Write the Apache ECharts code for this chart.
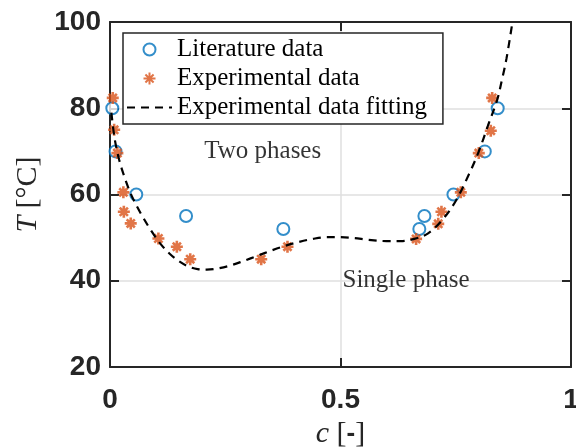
<!DOCTYPE html>
<html>
<head>
<meta charset="utf-8">
<title>Phase diagram</title>
<script src="https://cdn.jsdelivr.net/npm/echarts@6/dist/echarts.min.js"></script>
<style>
  html, body { margin: 0; padding: 0; background: #ffffff; }
  #chart { width: 576px; height: 447px; }
</style>
</head>
<body>
<div id="chart"></div>
<script>
// Literature cloud points (concentration c, temperature T in °C)
const litC = [0.005, 0.012, 0.057, 0.165, 0.376, 0.671, 0.682, 0.745, 0.813, 0.841];
const litT = [80, 70, 60, 55, 52, 52, 55, 60, 70, 80];

// Measured cloud points
const expC = [0.006, 0.009, 0.016, 0.029, 0.030, 0.045, 0.105, 0.145, 0.174,
              0.328, 0.385, 0.664, 0.712, 0.719, 0.761, 0.800, 0.826, 0.829];
const expT = [82.4, 75, 69.6, 60.5, 56, 53.3, 49.8, 47.9, 45,
              45, 47.9, 49.7, 53.2, 56, 60.5, 69.6, 74.8, 82.4];

// Fitted binodal curve
const fitC = [0.003, 0.01, 0.02, 0.03, 0.04, 0.05, 0.07, 0.09, 0.11, 0.13, 0.15,
              0.17, 0.19, 0.21, 0.23, 0.26, 0.29, 0.32, 0.35, 0.38, 0.41, 0.44,
              0.47, 0.50, 0.53, 0.56, 0.60, 0.63, 0.66, 0.69, 0.72, 0.75, 0.78,
              0.80, 0.82, 0.84, 0.85, 0.86, 0.873];
const fitT = [79, 73, 68, 64.5, 61.5, 59, 55, 51.5, 48.5, 46.2, 44.5,
              43.3, 42.7, 42.6, 42.8, 43.5, 44.6, 45.8, 47, 48.1, 49, 49.7,
              50.1, 50.1, 49.9, 49.5, 49.2, 49.2, 49.7, 51, 54, 58.5, 65,
              70, 76, 82, 86.5, 91.5, 100];

// Region labels
const regionText = ['Two phases', 'Single phase'];
const regionC = [0.2, 0.5];
const regionT = [70, 40];

// Axis ticks
const xTicks = [0, 0.5, 1];
const yTicks = [20, 40, 60, 80, 100];

const seriesNames = ['Literature data', 'Experimental data', 'Experimental data fitting'];

const axisColor = '#262626';
const serif = '"Liberation Serif", "Times New Roman", serif';
const sans = '"Liberation Sans", Arial, Helvetica, sans-serif';
const asterisk = 'path://M5,0L5,10M0,5L10,5M1.6,1.6L8.4,8.4M8.4,1.6L1.6,8.4';

const zip = (a, b) => a.map((v, i) => [v, b[i]]);

function valueAxis(pos, min, max, interval, showLabels, extra) {
  return Object.assign({
    type: 'value',
    position: pos,
    min: min,
    max: max,
    interval: interval,
    axisLine: { show: true, onZero: false, lineStyle: { color: axisColor, width: 2 } },
    axisTick: { show: true, inside: true, length: 9, lineStyle: { color: axisColor, width: 2 } },
    axisLabel: {
      show: showLabels,
      color: axisColor,
      fontFamily: sans,
      fontWeight: 'bold',
      fontSize: 28
    },
    splitLine: { show: false }
  }, extra || {});
}

const chart = echarts.init(document.getElementById('chart'), null, { renderer: 'canvas' });

chart.setOption({
  animation: false,
  backgroundColor: '#ffffff',
  grid: { left: 110, right: 5, top: 22, bottom: 80, containLabel: false, outerBoundsMode: 'none' },
  legend: {
    data: seriesNames,
    orient: 'vertical',
    left: 123,
    top: 33,
    itemWidth: 45,
    itemHeight: 12,
    itemGap: 4,
    padding: [4, 16, 4, 3],
    backgroundColor: '#ffffff',
    borderColor: axisColor,
    borderWidth: 1.5,
    borderRadius: 0,
    textStyle: { fontFamily: serif, fontSize: 25, color: '#000000' }
  },
  xAxis: [
    valueAxis('bottom', 0, 1, 0.5, true, {
      axisLabel: { show: true, color: axisColor, fontFamily: sans, fontWeight: 'bold', fontSize: 28, margin: 19,
        formatter: v => xTicks.includes(v) ? String(v) : '' },
      splitLine: { show: true, lineStyle: { color: '#dfdfdf', width: 1.5 } },
      name: '{i|c} [{b|-}]',
      nameLocation: 'middle',
      nameGap: 52,
      nameTextStyle: {
        fontFamily: serif, fontSize: 30, color: axisColor,
        rich: {
          i: { fontFamily: serif, fontStyle: 'italic', fontSize: 30, color: axisColor },
          b: { fontFamily: sans, fontWeight: 'bold', fontSize: 26, color: axisColor }
        }
      }
    }),
    valueAxis('top', 0, 1, 0.5, false)
  ],
  yAxis: [
    valueAxis('left', 20, 100, 20, true, {
      axisLabel: { show: true, color: axisColor, fontFamily: sans, fontWeight: 'bold', fontSize: 28, margin: 9,
        formatter: v => yTicks.includes(v) ? String(v) : '' },
      splitLine: { show: true, lineStyle: { color: '#dfdfdf', width: 1.5 } },
      name: '{i|T} [°C]',
      nameLocation: 'middle',
      nameGap: 66,
      nameTextStyle: {
        fontFamily: serif, fontSize: 30, color: axisColor,
        rich: {
          i: { fontFamily: serif, fontStyle: 'italic', fontSize: 30, color: axisColor }
        }
      }
    }),
    valueAxis('right', 20, 100, 20, false)
  ],
  series: [
    {
      name: seriesNames[0],
      type: 'scatter',
      symbol: 'emptyCircle',
      symbolSize: 12,
      itemStyle: { color: '#0072BD', borderColor: '#0072BD', borderWidth: 2.2 },
      data: zip(litC, litT),
      z: 3
    },
    {
      name: seriesNames[1],
      type: 'scatter',
      symbol: asterisk,
      symbolSize: 12,
      symbolKeepAspect: true,
      itemStyle: { color: '#D95319', borderColor: '#D95319', borderWidth: 2.6 },
      data: zip(expC, expT),
      z: 4
    },
    {
      name: seriesNames[2],
      type: 'line',
      symbol: 'circle',
      symbolSize: 0,
      showSymbol: false,
      smooth: 0.35,
      lineStyle: { color: '#000000', width: 2.2, type: [8, 6] },
      itemStyle: { color: 'rgba(0,0,0,0)', borderColor: 'rgba(0,0,0,0)' },
      data: zip(fitC, fitT),
      z: 5
    },
    {
      name: 'regions',
      type: 'scatter',
      symbolSize: 0,
      silent: true,
      data: regionC.map((c, i) => ({ value: [c, regionT[i]], name: regionText[i] })),
      label: {
        show: true,
        position: 'right',
        distance: 2,
        formatter: p => p.name,
        fontFamily: serif,
        fontSize: 25,
        color: '#000000'
      },
      z: 6
    }
  ]
});
</script>
</body>
</html>
